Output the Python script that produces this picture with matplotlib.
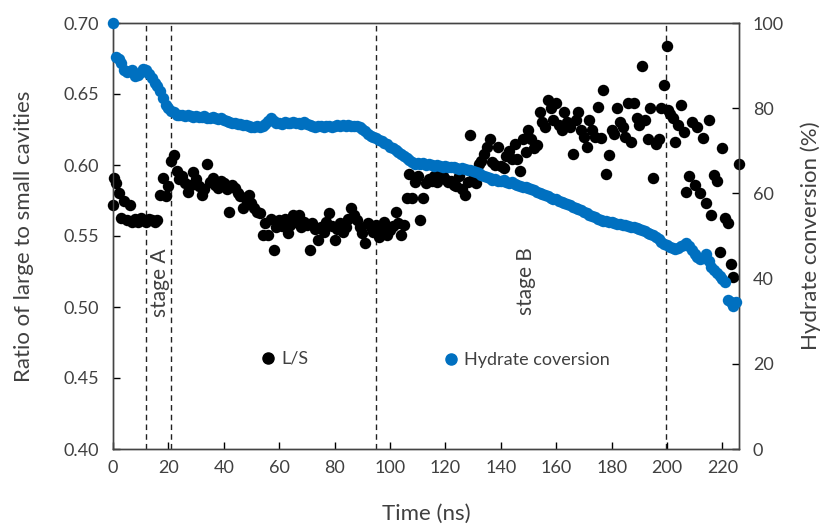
import matplotlib
matplotlib.use("Agg")
import matplotlib.pyplot as plt
from matplotlib.lines import Line2D

plt.rcParams['font.family'] = ['Lato', 'DejaVu Sans']

# ---- data ----
ls_time = [0, 0.5, 1, 2, 3, 4, 5, 6, 7, 8, 9, 10, 11, 12, 13, 14, 15, 16, 17, 18, 19, 20,
           21, 22, 23, 24, 25, 26, 27, 28, 29, 30, 31, 32, 33, 34, 35, 36, 37, 38, 39, 40,
           41, 42, 43, 44, 45, 46, 47, 48, 49, 50, 51, 52, 53, 54, 55, 56, 57, 58, 59, 60,
           61, 62, 63, 64, 65, 66, 67, 68, 69, 70, 71, 72, 73, 74, 75, 76, 77, 78, 79, 80,
           81, 82, 83, 84, 85, 86, 87, 88, 89, 90, 91, 92, 93, 94, 95, 96, 97, 98, 99, 100,
           101, 102, 103, 104, 105, 106, 107, 108, 109, 110, 111, 112, 113, 114, 115, 116, 117, 118, 119, 120,
           121, 122, 123, 124, 125, 126, 127, 128, 129, 130, 131, 132, 133, 134, 135, 136, 137, 138, 139, 140,
           141, 142, 143, 144, 145, 146, 147, 148, 149, 150, 151, 152, 153, 154, 155, 156, 157, 158, 159, 160,
           161, 162, 163, 164, 165, 166, 167, 168, 169, 170, 171, 172, 173, 174, 175, 176, 177, 178, 179, 180,
           181, 182, 183, 184, 185, 186, 187, 188, 189, 190, 191, 192, 193, 194, 195, 196, 197, 198, 199, 200,
           200.5, 201, 202, 203, 204, 205, 206, 207, 208, 209, 210, 211, 212, 213, 214, 215, 216, 217, 218, 219,
           220, 221, 222, 223, 224, 226]
ls_ratio = [0.572, 0.591, 0.587, 0.580, 0.563, 0.575, 0.561, 0.572, 0.560, 0.562, 0.560, 0.563, 0.561, 0.560, 0.562, 0.561, 0.560, 0.561, 0.579, 0.591, 0.578, 0.585,
            0.603, 0.607, 0.596, 0.590, 0.592, 0.587, 0.581, 0.586, 0.595, 0.590, 0.585, 0.579, 0.583, 0.601, 0.588, 0.591, 0.586, 0.584, 0.589, 0.587,
            0.583, 0.567, 0.586, 0.584, 0.580, 0.578, 0.570, 0.576, 0.579, 0.573, 0.570, 0.567, 0.566, 0.551, 0.559, 0.551, 0.562, 0.540, 0.556, 0.561,
            0.557, 0.562, 0.552, 0.558, 0.565, 0.560, 0.565, 0.556, 0.560, 0.558, 0.540, 0.559, 0.555, 0.547, 0.556, 0.553, 0.560, 0.566, 0.557, 0.547,
            0.555, 0.559, 0.553, 0.556, 0.562, 0.570, 0.565, 0.561, 0.556, 0.552, 0.545, 0.559, 0.556, 0.553, 0.558, 0.549, 0.555, 0.560, 0.551, 0.554,
            0.557, 0.567, 0.559, 0.551, 0.558, 0.577, 0.594, 0.577, 0.588, 0.592, 0.561, 0.577, 0.587, 0.590, 0.589, 0.592, 0.588, 0.594, 0.592, 0.590,
            0.588, 0.589, 0.586, 0.585, 0.592, 0.583, 0.579, 0.588, 0.621, 0.590, 0.587, 0.601, 0.603, 0.608, 0.613, 0.618, 0.602, 0.600, 0.613, 0.599,
            0.598, 0.606, 0.610, 0.604, 0.615, 0.604, 0.596, 0.618, 0.609, 0.625, 0.618, 0.612, 0.614, 0.637, 0.630, 0.627, 0.646, 0.640, 0.632, 0.644,
            0.628, 0.625, 0.637, 0.630, 0.627, 0.608, 0.632, 0.637, 0.625, 0.620, 0.613, 0.632, 0.625, 0.620, 0.641, 0.619, 0.653, 0.594, 0.607, 0.625,
            0.622, 0.640, 0.630, 0.627, 0.620, 0.644, 0.616, 0.644, 0.633, 0.628, 0.670, 0.632, 0.618, 0.640, 0.591, 0.615, 0.618, 0.640, 0.656, 0.684,
            0.639, 0.636, 0.633, 0.616, 0.628, 0.642, 0.623, 0.581, 0.592, 0.630, 0.586, 0.627, 0.580, 0.619, 0.573, 0.632, 0.565, 0.593, 0.589, 0.539,
            0.612, 0.563, 0.559, 0.530, 0.521, 0.601]

hyd_time = list(range(0, 226))
hyd_conv = [100, 92, 91.5, 90.5, 89, 88.5, 88.8, 89, 87.5, 87.8, 88.5, 89.3, 89, 88, 87, 86, 85.2, 84, 82.5, 80.8,
            80, 79.4, 79, 78.5, 78.4, 78.3, 78.2, 78.4, 78.1, 78, 78.2, 78, 77.9, 78.1, 77.8, 77.7, 77.9, 77.7, 77.5, 77.6,
            77.3, 77.1, 76.8, 76.5, 76.6, 76.3, 76.2, 76.0, 76.1, 75.8, 75.7, 75.6, 75.8, 75.6, 75.9, 76.3, 77.0, 77.6, 77.0, 76.5,
            76.6, 76.4, 76.7, 76.5, 76.6, 76.8, 76.5, 76.6, 76.4, 76.7, 76.3, 76.1, 75.9, 75.7, 75.8, 75.9, 75.6, 75.8, 75.9, 75.7,
            75.9, 76.0, 75.8, 76.0, 75.9, 76.0, 75.9, 75.8, 75.9, 75.6, 75.2, 74.6, 74.0, 73.5, 73.2, 73.0, 72.6, 72.3, 71.9, 71.6,
            71.0, 70.6, 70.2, 69.8, 69.3, 68.7, 68.2, 67.8, 67.3, 67.0, 67.2, 66.8, 67.1, 66.6, 66.9, 66.7, 66.4, 66.6, 66.5, 66.2,
            66.5, 66.3, 66.1, 66.3, 66.0, 65.8, 66.0, 65.7, 65.5, 65.6, 65.3, 65.0, 64.7, 64.4, 64.2, 63.8, 63.5, 63.2, 63.3, 63.0,
            62.8, 63.1, 62.6, 62.4, 62.6, 62.2, 62.0, 61.8, 61.5, 61.6, 61.2, 61.0, 60.8, 60.4, 60.1, 59.8, 59.6, 59.3, 59.0, 58.8,
            58.6, 58.3, 58.0, 57.8, 57.6, 57.2, 56.9, 56.5, 56.3, 56.0, 55.7, 55.5, 55.0, 54.7, 54.5, 54.0, 53.8, 53.6, 53.5, 53.2,
            53.4, 53.0, 52.8, 52.9, 52.5, 52.6, 52.3, 52.1, 52.2, 51.8, 51.6, 51.4, 51.1, 50.8, 50.5, 50.2, 49.7, 49.2, 48.6, 48.2,
            47.8, 47.5, 47.2, 47.0, 47.3, 47.6, 48.0, 48.4, 47.6, 46.8, 45.8, 45.0, 44.5, 44.8, 45.8, 44.2, 42.8, 42.0, 41.3, 40.5,
            39.8, 39.2, 35.0, 34.5, 33.5, 34.5]

stage_lines = [12, 21, 95, 199.5]
x_ticks = list(range(0, 221, 20))
left_ticks = [0.40, 0.45, 0.50, 0.55, 0.60, 0.65, 0.70]
right_ticks = [0, 20, 40, 60, 80, 100]

BLUE = '#0070C0'
TXT = '#404040'

fig = plt.figure(figsize=(8.23, 5.24), dpi=100)
ax = fig.add_axes([113/823, 1-449/524, (739-113)/823, (449-23)/524])
ax2 = ax.twinx()

ax.scatter(ls_time, ls_ratio, s=68, color='black', clip_on=False, zorder=3, linewidths=0)
ax2.scatter(hyd_time, hyd_conv, s=68, color=BLUE, clip_on=False, zorder=3, linewidths=0)

for xv in stage_lines:
    ax.axvline(xv, color='#222222', linestyle=(0, (4, 3)), linewidth=1.0, zorder=1)

ax.set_xlim(0, 226)
ax.set_ylim(0.40, 0.70)
ax2.set_ylim(0, 100)
ax.set_xticks(x_ticks)
ax.set_yticks(left_ticks)
ax.set_yticklabels([f"{v:.2f}" for v in left_ticks])
ax2.set_yticks(right_ticks)

for a in (ax, ax2):
    a.tick_params(direction='in', length=5, width=1, colors='black', labelcolor=TXT, labelsize=13)
    for sp in a.spines.values():
        sp.set_color('#444444')
        sp.set_linewidth(1.0)
ax.tick_params(axis='x', pad=8)
ax.tick_params(axis='y', pad=10)
ax2.tick_params(axis='y', pad=10)

ax.set_xlabel('Time (ns)', fontsize=16, color=TXT, labelpad=20)
ax.set_ylabel('Ratio of large to small cavities', fontsize=16, color=TXT, labelpad=21)
ax2.set_ylabel('Hydrate conversion (%)', fontsize=16, color=TXT, labelpad=12)

ax.text(17, 0.517, 'stage A', rotation=90, ha='center', va='center', fontsize=15, color=TXT)
ax.text(149, 0.518, 'stage B', rotation=90, ha='center', va='center', fontsize=15, color=TXT)

h1 = Line2D([], [], marker='o', color='black', linestyle='none', markersize=8)
h2 = Line2D([], [], marker='o', color=BLUE, linestyle='none', markersize=8)
leg1 = ax2.legend([h1], ['L/S'], loc='center left', bbox_to_anchor=(252/823, 1-359/524),
                  bbox_transform=fig.transFigure, frameon=False, handlelength=0.8,
                  handletextpad=0.3, borderpad=0, fontsize=13, labelcolor=TXT)
ax2.add_artist(leg1)
ax2.legend([h2], ['Hydrate coversion'], loc='center left', bbox_to_anchor=(435/823, 1-360/524),
           bbox_transform=fig.transFigure, frameon=False, handlelength=0.8,
           handletextpad=0.3, borderpad=0, fontsize=13, labelcolor=TXT)

fig.savefig('out.png', dpi=100)
